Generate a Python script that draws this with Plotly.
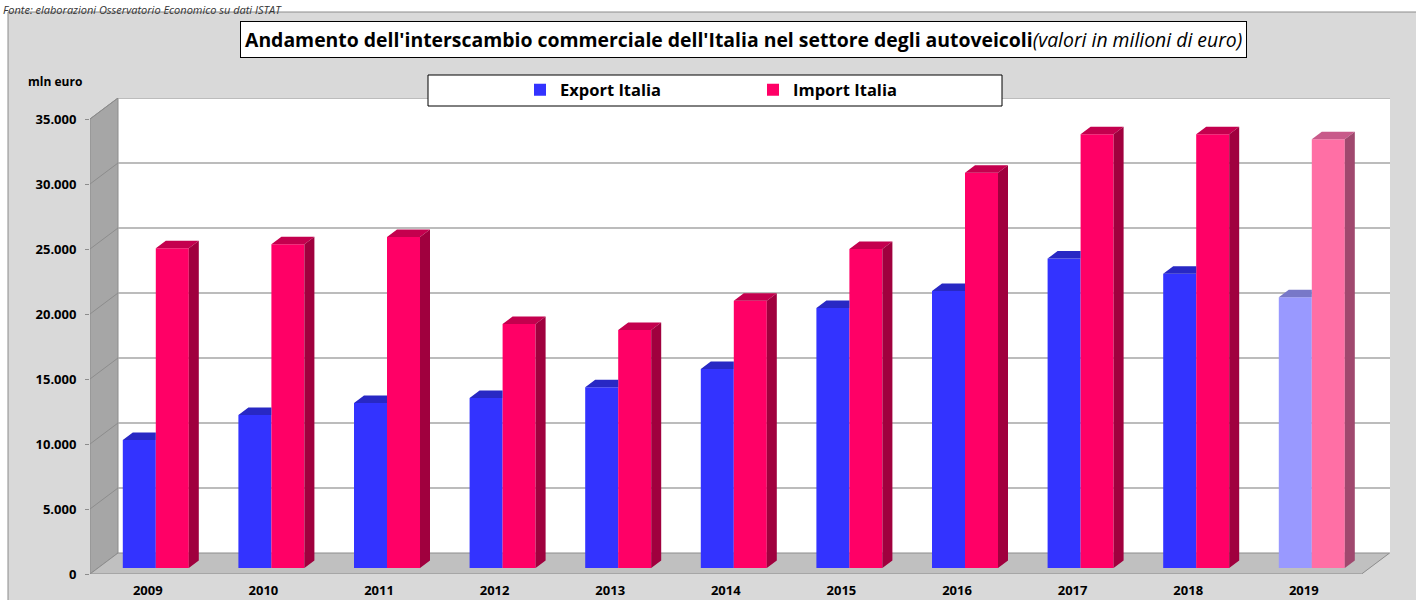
import plotly.graph_objects as go

# ---------------- data ----------------
years = ["2009", "2010", "2011", "2012", "2013", "2014", "2015", "2016", "2017", "2018", "2019"]
export_italia = [9850, 11770, 12700, 13080, 13900, 15300, 20000, 21300, 23800, 22640, 20820]
import_italia = [24590, 24900, 25460, 18770, 18300, 20560, 24540, 30400, 33360, 33360, 32980]
y_ticks = [0, 5000, 10000, 15000, 20000, 25000, 30000, 35000]

title_main = "Andamento dell'interscambio commerciale dell'Italia nel settore degli autoveicoli"
title_sub = "(valori in milioni di euro)"
source_txt = "Fonte: elaborazioni Osservatorio Economico su dati ISTAT"

# ---------------- geometry (pseudo 3D) ----------------
W, H = 1416, 600
PL, PR, PT, PB = 90, 1390, 98, 574          # plot area in pixels
CAT_PX = 115.6                               # px per category
VAL_PX = 0.013                               # px per value unit
x_range = [-0.5, -0.5 + (PR - PL) / CAT_PX]
y_range = [0, (PB - PT) / VAL_PX]

WDX, WDY = 28 / CAT_PX, 21 / VAL_PX          # back wall depth offset
FX, FY = 8 / CAT_PX, 6 / VAL_PX              # bar front face depth offset
BX, BY = 10 / CAT_PX, 7.5 / VAL_PX           # bar depth
BW = 33 / CAT_PX                             # bar width

n = len(years)
last = n - 1  # provisional year drawn lighter

exp_front = ["#3333FF"] * n
exp_front[last] = "#9999FF"
imp_front = ["#FF0066"] * n
imp_front[last] = "#FF6FA5"

fig = go.Figure()

# front faces as bars
fig.add_trace(go.Bar(
    x=[i + FX for i in range(n)], y=export_italia, base=FY, width=BW, offset=-BW,
    marker=dict(color=exp_front, line=dict(width=0)), name="Export Italia",
    hovertext=years, hoverinfo="text+y"))
fig.add_trace(go.Bar(
    x=[i + FX for i in range(n)], y=import_italia, base=FY, width=BW, offset=0,
    marker=dict(color=imp_front, line=dict(width=0)), name="Import Italia",
    hovertext=years, hoverinfo="text+y"))


def poly_trace(polys, color):
    xs, ys = [], []
    for p in polys:
        for (a, b) in p:
            xs.append(a)
            ys.append(b)
        xs.append(p[0][0])
        ys.append(p[0][1])
        xs.append(None)
        ys.append(None)
    return go.Scatter(x=xs, y=ys, mode="lines", fill="toself", fillcolor=color,
                      line=dict(width=0, color=color), showlegend=False, hoverinfo="skip")


def faces(idx):
    e_top, i_top, i_side = [], [], []
    for i in idx:
        c = i + FX
        # export (left) - top face, right part hidden by import bar
        L, R, T = c - BW, c, FY + export_italia[i]
        e_top.append([(L, T), (R, T), (R, T + BY), (L + BX, T + BY)])
        # import (right)
        L, R, T = c, c + BW, FY + import_italia[i]
        i_top.append([(L, T), (R, T), (R + BX, T + BY), (L + BX, T + BY)])
        i_side.append([(R, FY), (R, T), (R + BX, T + BY), (R + BX, FY + BY)])
    return e_top, i_top, i_side


main_idx = [i for i in range(n) if i != last]
e_top, i_top, i_side = faces(main_idx)
fig.add_trace(poly_trace(e_top, "#2828C4"))
fig.add_trace(poly_trace(i_top, "#C4004E"))
fig.add_trace(poly_trace(i_side, "#A0003E"))
e_top, i_top, i_side = faces([last])
fig.add_trace(poly_trace(e_top, "#7878C8"))
fig.add_trace(poly_trace(i_top, "#C85A8A"))
fig.add_trace(poly_trace(i_side, "#A0486E"))

# ---------------- walls, floor, gridlines ----------------
shapes = []
px_x = lambda px: (px - PL) / (PR - PL)
px_y = lambda py: (PB - py) / (PB - PT)

# grey chart panel
shapes.append(dict(type="rect", xref="paper", yref="paper", layer="below",
                   x0=px_x(8), x1=px_x(W + 5), y0=px_y(H + 5), y1=px_y(12),
                   fillcolor="#D9D9D9", line=dict(color="#8C8C8C", width=1)))
x0, x1 = x_range
y1 = y_range[1]
# back wall
shapes.append(dict(type="rect", xref="x", yref="y", layer="below",
                   x0=x0 + WDX, x1=x1, y0=WDY, y1=y1,
                   fillcolor="white", line=dict(width=0)))
# left wall
top_v = y_ticks[-1]
shapes.append(dict(type="path", xref="x", yref="y", layer="below",
                   path=f"M{x0},0 L{x0},{top_v} L{x0 + WDX},{top_v + WDY} L{x0 + WDX},{WDY} Z",
                   fillcolor="#A6A6A6", line=dict(color="#8C8C8C", width=1)))
# floor
fx1 = n - 0.5
shapes.append(dict(type="path", xref="x", yref="y", layer="below",
                   path=f"M{x0},0 L{fx1},0 L{fx1 + WDX},{WDY} L{x0 + WDX},{WDY} Z",
                   fillcolor="#C0C0C0", line=dict(color="#8C8C8C", width=1)))
# gridlines
for v in y_ticks[1:]:
    shapes.append(dict(type="line", xref="x", yref="y", layer="below",
                       x0=x0 + WDX, x1=x1, y0=v + WDY, y1=v + WDY,
                       line=dict(color="#A6A6A6", width=1.5)))
    shapes.append(dict(type="line", xref="x", yref="y", layer="below",
                       x0=x0, x1=x0 + WDX, y0=v, y1=v + WDY,
                       line=dict(color="#8C8C8C", width=1)))
# legend box (drawn over the back wall)
shapes.append(dict(type="rect", xref="paper", yref="paper", layer="above",
                   x0=px_x(428), x1=px_x(1002), y0=px_y(106), y1=px_y(75),
                   fillcolor="white", line=dict(color="black", width=1)))

FONT = "Open Sans"
annotations = [
    dict(text=f"<b>{title_main}</b><i>{title_sub}</i>", xref="paper", yref="paper",
         x=px_x(743), y=px_y(39), xanchor="center", yanchor="middle", showarrow=False,
         font=dict(family=FONT, size=19.4, color="black"),
         bgcolor="white", bordercolor="black", borderwidth=1, borderpad=4),
    dict(text="<b>mln euro</b>", xref="paper", yref="paper", x=px_x(55), y=px_y(82),
         xanchor="center", yanchor="middle", showarrow=False,
         font=dict(family=FONT, size=12, color="black")),
    dict(text=f"<i>{source_txt}</i>", xref="paper", yref="paper", x=px_x(1), y=px_y(0),
         xanchor="left", yanchor="top", showarrow=False,
         font=dict(family=FONT, size=11, color="#333333")),
]

fig.update_layout(
    width=W, height=H,
    margin=dict(l=PL, r=W - PR, t=PT, b=H - PB, pad=0, autoexpand=False),
    paper_bgcolor="white", plot_bgcolor="rgba(0,0,0,0)",
    barmode="overlay", separators=",.",
    shapes=shapes, annotations=annotations,
    font=dict(family=FONT, color="black"),
    legend=dict(orientation="h", x=px_x(520), y=px_y(90), xanchor="left", yanchor="middle",
                bgcolor="rgba(0,0,0,0)", borderwidth=0, entrywidth=188, entrywidthmode="pixels",
                font=dict(family=FONT, size=16.5, weight="bold", color="black"),
                itemclick=False, itemdoubleclick=False),
    xaxis=dict(range=x_range, tickvals=list(range(n)), ticktext=years, showgrid=False,
               zeroline=False, showline=False, ticks="", ticklabelstandoff=7,
               tickfont=dict(family=FONT, size=13, weight="bold", color="black")),
    yaxis=dict(range=y_range, tickvals=y_ticks, tickformat=",d", showgrid=False,
               zeroline=False, showline=False, ticks="outside", ticklen=4, tickcolor="#8C8C8C",
               ticklabelstandoff=6,
               tickfont=dict(family=FONT, size=13, weight="bold", color="black")),
)

fig.write_html("out.html", config={"displayModeBar": False},
               post_script="document.body.style.margin='0';document.body.style.padding='0';")
